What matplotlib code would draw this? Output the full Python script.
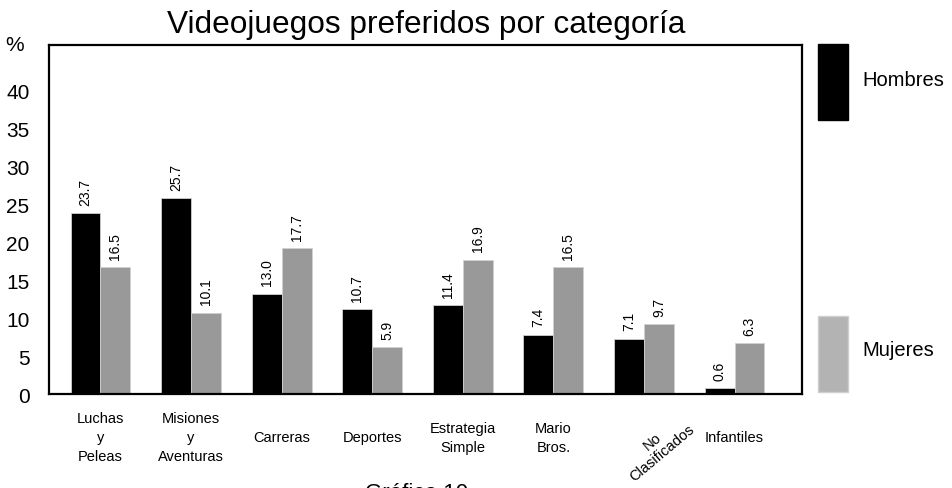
import matplotlib.pyplot as plt
import matplotlib.patches as mpatches
import numpy as np

plt.rcParams['font.family'] = ['Liberation Sans', 'DejaVu Sans']

categorias = ['Luchas\ny\nPeleas', 'Misiones\ny\nAventuras', 'Carreras', 'Deportes',
              'Estrategia\nSimple', 'Mario\nBros.', 'No\nClasificados', 'Infantiles']
# alturas de las barras tal como se ven en la grafica
hombres = [23.8, 25.8, 13.2, 11.2, 11.7, 7.8, 7.3, 0.8]
mujeres = [16.7, 10.7, 19.2, 6.2, 17.7, 16.7, 9.2, 6.7]
# valores impresos sobre las barras
hombres_txt = ['23.7', '25.7', '13.0', '10.7', '11.4', '7.4', '7.1', '0.6']
mujeres_txt = ['16.5', '10.1', '17.7', '5.9', '16.9', '16.5', '9.7', '6.3']
yticks = [0, 5, 10, 15, 20, 25, 30, 35, 40]

negro = '#000000'
gris = '#999999'
gris_ley = '#b3b3b3'

fig = plt.figure(figsize=(9.53, 4.89), dpi=100)
ax = fig.add_axes([0.0514, 0.1922, 0.790, 0.714])

x = np.arange(len(categorias))
w = 0.33
b1 = ax.bar(x - w/2, hombres, w, color=negro, edgecolor='#d0d0d0', linewidth=0.6)
b2 = ax.bar(x + w/2, mujeres, w, color=gris, edgecolor='#d0d0d0', linewidth=0.6)

for bars, txt in ((b1, hombres_txt), (b2, mujeres_txt)):
  for r, t in zip(bars, txt):
    ax.annotate(t, (r.get_x() + r.get_width()/2, r.get_height()), xytext=(0, 6),
                textcoords='offset points', rotation=90, ha='center', va='bottom', fontsize=10)

ax.set_xlim(-0.568, 7.743)
ax.set_ylim(0, 46)
ax.set_yticks(yticks)
ax.tick_params(axis='y', length=0, pad=14, labelsize=15)
ax.set_xticks([])
for s in ax.spines.values():
  s.set_linewidth(1.6)
  s.set_color('black')

ax.text(-0.033, 46, '%', transform=ax.get_yaxis_transform(), ha='right', va='center', fontsize=15)

# etiquetas de categorias
for i, c in enumerate(categorias):
  if c.startswith('No'):
    ax.text(i + 0.15, -6.9, c, rotation=40, ha='center', va='center', fontsize=10.5,
            linespacing=1.1, rotation_mode='anchor')
  else:
    ax.text(i, -5.7, c, ha='center', va='center', fontsize=10.5, linespacing=1.45)

fig.text(0.447, 1 - 33/489, 'Videojuegos preferidos por categoría', ha='center',
         va='baseline', fontsize=22.8)

# leyenda manual
fig.patches.append(mpatches.Rectangle((818/953, 1 - 121/489), 30/953, 76/489,
                                      transform=fig.transFigure, color=negro))
fig.patches.append(mpatches.Rectangle((818/953, 1 - 393/489), 30/953, 76/489,
                                      transform=fig.transFigure, facecolor=gris_ley,
                                      edgecolor='#cfcfcf', linewidth=1))
fig.text(862/953, 1 - 80/489, 'Hombres', ha='left', va='center', fontsize=14.5)
fig.text(862/953, 1 - 351/489, 'Mujeres', ha='left', va='center', fontsize=14.5)

fig.text(0.437, 1 - 499/489, 'Gráfica 10', ha='center', va='baseline', fontsize=16)

fig.savefig('out.png', dpi=100)
